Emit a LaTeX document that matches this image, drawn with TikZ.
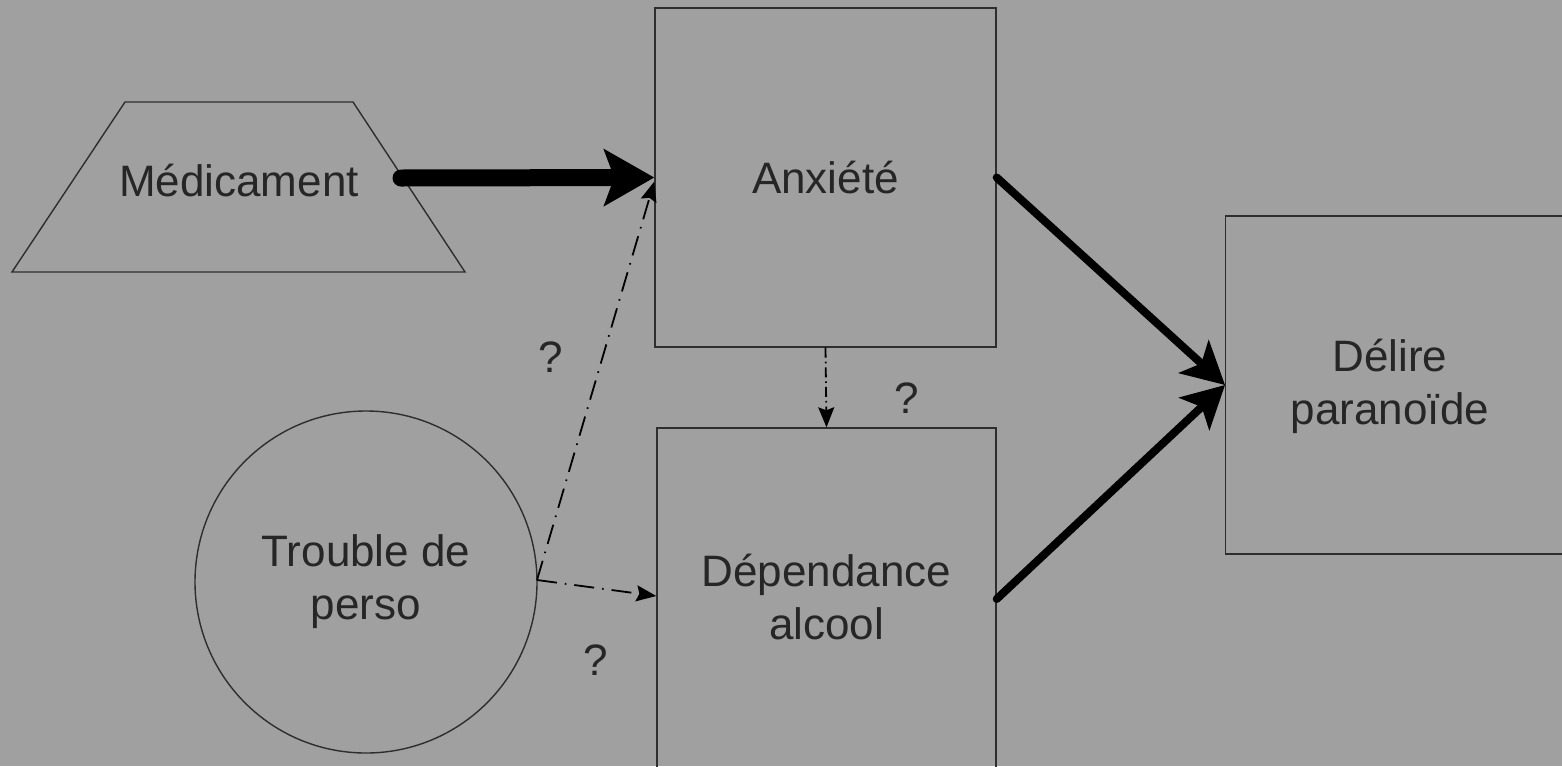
\documentclass[tikz,border=0pt]{standalone}
\usepackage{fontspec}
\setmainfont{Liberation Sans}
\usetikzlibrary{arrows.meta}
\definecolor{bg}{HTML}{A0A0A0}
\definecolor{ink}{HTML}{262626}
\definecolor{edge}{HTML}{2E2E2E}
\begin{document}
\begin{tikzpicture}[x=0.5pt,y=-0.5pt,
  lbl/.style={text=ink,font=\fontsize{22}{26.5}\selectfont,align=center},
  boxnode/.style={lbl,draw=edge,line width=0.7pt,minimum width=170.5pt,minimum height=169.5pt,inner sep=0pt},
  bigarrow/.style={line width=8.5pt,line cap=round,-{Stealth[length=25pt,width=28pt,inset=5pt]}},
  midarrow/.style={line width=4pt,line cap=round,-{Stealth[length=21pt,width=22pt,inset=5pt]}},
  dotarrow/.style={line width=0.9pt,dash pattern=on 10pt off 4pt on 0.8pt off 4pt,-{Stealth[length=10pt,width=8pt,inset=1.5pt]}},
  qmark/.style={text=ink,font=\fontsize{22}{26}\selectfont}]
\fill[bg] (0,0) rectangle (1562,766);
\useasboundingbox (0,0) rectangle (1562,766);
\begin{scope}
\clip (0,0) rectangle (1562,766);
% trapezoid
\draw[edge,line width=0.7pt] (125,102) -- (353,102) -- (465,272) -- (12,272) -- cycle;
\node[lbl] (med) at (239,181) {Médicament};
\coordinate (medout) at (401,178);
% boxes
\node[boxnode] (anx) at (825.5,177.5) {Anxiété};
\node[boxnode,minimum width=169.5pt,minimum height=171pt] (dep) at (826.5,599) {};
\node[lbl] (deptext) at (826.5,597.5) {Dépendance\\alcool};
\node[boxnode,minimum width=170pt,minimum height=169pt,anchor=west] (del) at (1225,385) {};
\node[lbl] (deltext) at (1390,386) {Délire\\paranoïde};
% circle
\node[lbl,draw=edge,line width=0.7pt,circle,minimum size=171pt,inner sep=0pt] (tp) at (366,582) {Trouble de\\perso};
\coordinate (tpout) at (537,580);
% connectors
\draw[bigarrow] (medout) -- (anx.west);
\draw[midarrow] (anx.east) -- (del.west);
\draw[midarrow] (dep.east) -- (del.west);
\draw[dotarrow] (tpout) -- ([yshift=-2pt]anx.west);
\draw[dotarrow] (tpout) -- ([yshift=1.5pt]dep.west);
\draw[dotarrow,dash pattern=on 5pt off 2pt on 0.8pt off 2pt] (anx.south) -- (dep.north);
% labels
\node[qmark] (q1) at (551,357) {?};
\node[qmark] (q2) at (907,398) {?};
\node[qmark] (q3) at (596,660) {?};
\end{scope}
\end{tikzpicture}
\end{document}
